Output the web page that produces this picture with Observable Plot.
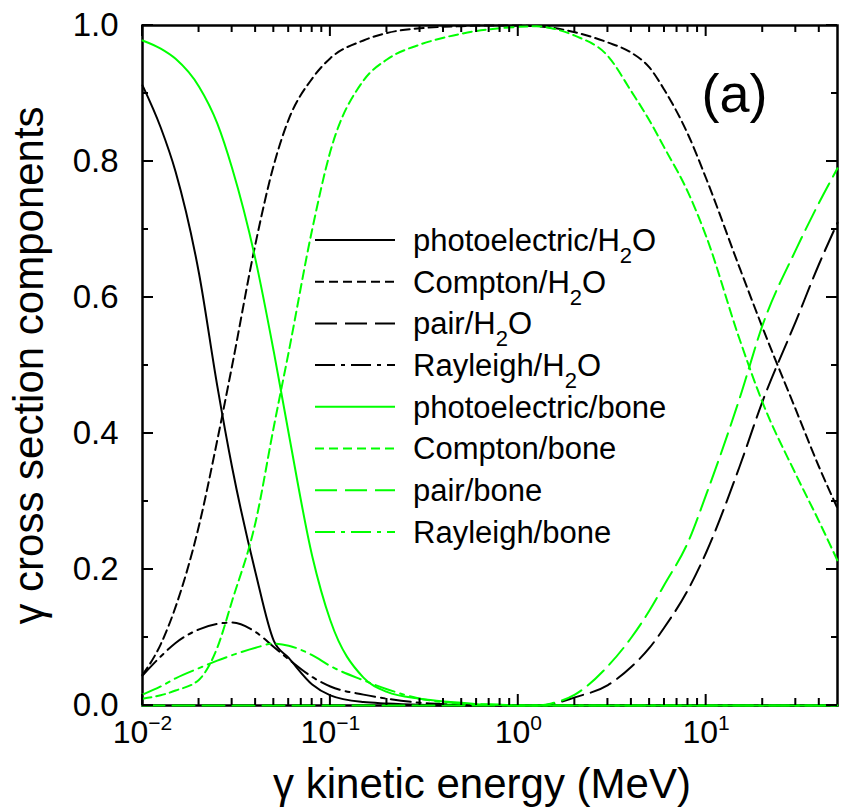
<!DOCTYPE html>
<html>
<head>
<meta charset="utf-8">
<script src="https://cdn.jsdelivr.net/npm/d3@7"></script>
<script src="https://cdn.jsdelivr.net/npm/@observablehq/plot@0.6"></script>
<style>
  body { margin: 0; background: #fff; overflow: hidden; }
  svg { font-family: "Liberation Sans", Arial, Helvetica, sans-serif; }
</style>
</head>
<body>
<div id="chart"></div>
<script>
// ---- data ----
const energy = [0.01, 0.0125, 0.015, 0.02, 0.025, 0.03, 0.04, 0.05, 0.06, 0.08, 0.1, 0.15, 0.2, 0.3, 0.4, 0.5, 0.6, 0.8, 1, 1.25, 1.5, 2, 3, 4, 5, 6, 8, 10, 15, 20, 30, 40, 50];

const photoH2O    = [0.912, 0.85, 0.785, 0.635, 0.47, 0.35, 0.195, 0.095, 0.07, 0.031, 0.015, 0.005, 0.003, 0.001, 0, 0, 0, 0, 0, 0, 0, 0, 0, 0, 0, 0, 0, 0, 0, 0, 0, 0, 0];
const comptonH2O  = [0.045, 0.09, 0.145, 0.265, 0.39, 0.50, 0.68, 0.795, 0.862, 0.922, 0.952, 0.978, 0.989, 0.996, 0.998, 0.999, 1.0, 1.0, 1.0, 0.999, 0.997, 0.99, 0.975, 0.96, 0.938, 0.905, 0.84, 0.775, 0.645, 0.555, 0.435, 0.35, 0.29];
const pairH2O     = [0, 0, 0, 0, 0, 0, 0, 0, 0, 0, 0, 0, 0, 0, 0, 0, 0, 0, 0, 0, 0.002, 0.012, 0.03, 0.057, 0.085, 0.115, 0.17, 0.225, 0.35, 0.448, 0.565, 0.65, 0.71];
const rayleighH2O = [0.044, 0.072, 0.092, 0.112, 0.12, 0.122, 0.108, 0.086, 0.068, 0.042, 0.028, 0.016, 0.01, 0.004, 0.002, 0.001, 0, 0, 0, 0, 0, 0, 0, 0, 0, 0, 0, 0, 0, 0, 0, 0, 0];
const photoBone    = [0.978, 0.966, 0.951, 0.91, 0.856, 0.79, 0.655, 0.52, 0.40, 0.22, 0.125, 0.041, 0.02, 0.01, 0.006, 0.004, 0.002, 0.001, 0, 0, 0, 0, 0, 0, 0, 0, 0, 0, 0, 0, 0, 0, 0];
const comptonBone  = [0.01, 0.015, 0.022, 0.038, 0.085, 0.154, 0.27, 0.41, 0.52, 0.70, 0.815, 0.919, 0.95, 0.972, 0.982, 0.988, 0.992, 0.996, 0.998, 0.999, 0.996, 0.985, 0.955, 0.903, 0.86, 0.82, 0.755, 0.69, 0.54, 0.445, 0.34, 0.27, 0.213];
const pairBone     = [0, 0, 0, 0, 0, 0, 0, 0, 0, 0, 0, 0, 0, 0, 0, 0, 0, 0, 0, 0, 0.003, 0.016, 0.058, 0.1, 0.14, 0.178, 0.24, 0.31, 0.45, 0.56, 0.67, 0.74, 0.79];
const rayleighBone = [0.016, 0.028, 0.04, 0.055, 0.066, 0.074, 0.085, 0.091, 0.088, 0.074, 0.058, 0.037, 0.024, 0.01, 0.005, 0.003, 0.002, 0.001, 0, 0, 0, 0, 0, 0, 0, 0, 0, 0, 0, 0, 0, 0, 0];

const seriesLabels = ["photoelectric/H2O", "Compton/H2O", "pair/H2O", "Rayleigh/H2O",
                      "photoelectric/bone", "Compton/bone", "pair/bone", "Rayleigh/bone"];
const seriesValues = [photoH2O, comptonH2O, pairH2O, rayleighH2O, photoBone, comptonBone, pairBone, rayleighBone];

const xMajorTicks = [0.01, 0.1, 1, 10];
const xMinorTicks = [0.02,0.03,0.04,0.05,0.06,0.07,0.08,0.09,0.2,0.3,0.4,0.5,0.6,0.7,0.8,0.9,2,3,4,5,6,7,8,9,20,30,40];
const yMajorTicks = [0, 0.2, 0.4, 0.6, 0.8, 1.0];
const yMinorTicks = [0.1, 0.3, 0.5, 0.7, 0.9];
const xTickExponents = ["\u22122", "\u22121", "0", "1"];

const xTitle = "\u03b3 kinetic energy (MeV)";
const yTitle = "\u03b3 cross section components";
const panelLabel = "(a)";

// ---- layout / styles ----
const W = 843, H = 809, ML = 142, MR = 6, MT = 25, MB = 104;
const GREEN = "#00ff00";
const colors = ["black", "black", "black", "black", GREEN, GREEN, GREEN, GREEN];
const dashes = [null, "9,5", "22,8", "20,6,4,6", null, "9,5", "22,8", "20,6,4,6"];

const lineMarks = seriesValues.map((vals, i) =>
  Plot.line(energy.map((e, j) => ({E: e, v: vals[j]})), {
    x: "E", y: "v", stroke: colors[i], strokeWidth: 2,
    strokeDasharray: dashes[i] ?? undefined, curve: "monotone-x"
  })
);

const svg = Plot.plot({
  width: W,
  height: H,
  marginLeft: ML,
  marginRight: MR,
  marginTop: MT,
  marginBottom: MB,
  style: {fontFamily: '"Liberation Sans", Arial, Helvetica, sans-serif', background: "white", color: "black"},
  x: {type: "log", domain: [0.01, 50]},
  y: {domain: [0, 1]},
  marks: [
    Plot.frame({stroke: "black", fill: "none", strokeWidth: 2.5}),
    // tick labels
    Plot.axisY({ticks: yMajorTicks, tickSize: 0, tickPadding: 24, fontSize: 33, tickFormat: d3.format(".1f"), label: null}),
    Plot.axisX({ticks: xMajorTicks, tickSize: 0, tickPadding: 15, fontSize: 32,
      tickFormat: d => xTickExponents[xMajorTicks.indexOf(d)], label: null}),
    // titles
    Plot.text([xTitle], {frameAnchor: "bottom", textAnchor: "middle", lineAnchor: "middle", dx: -8, dy: 79, fontSize: 42, fill: "black"}),
    Plot.text([yTitle], {frameAnchor: "left", textAnchor: "middle", lineAnchor: "middle", rotate: -90, dx: -113, fontSize: 42, fill: "black"}),
    Plot.text([panelLabel], {frameAnchor: "top-right", textAnchor: "middle", lineAnchor: "middle", dx: -103, dy: 69, fontSize: 54, fill: "black"}),
    ...lineMarks
  ]
});

// inward ticks on all four sides; positions come from Plot's own x and y scales
const px = svg.scale("x"), py = svg.scale("y");
const sx = d3.scaleLog().domain(px.domain).range(px.range);
const sy = d3.scaleLinear().domain(py.domain).range(py.range);
const [fx0, fx1] = px.range, [fy1, fy0] = py.range;   // frame edges in pixels
let tickPath = "";
function hTicks(vals, len) {
  vals.forEach(v => {
    const y = sy(v);
    tickPath += `M${fx0},${y}h${len}M${fx1},${y}h${-len}`;
  });
}
function vTicks(vals, len) {
  vals.forEach(v => {
    const x = sx(v);
    tickPath += `M${x},${fy1}v${-len}M${x},${fy0}v${len}`;
  });
}
hTicks(yMajorTicks, 11);
hTicks(yMinorTicks, 6);
vTicks(xMajorTicks, 11);
vTicks(xMinorTicks, 7);
d3.select(svg).append("path").attr("d", tickPath)
  .attr("fill", "none").attr("stroke", "#000").attr("stroke-width", 2);

// superscript exponents on x tick labels
d3.select(svg).selectAll('g[aria-label="x-axis tick label"] text').each(function () {
  const exp = this.textContent;
  if (!exp) return;
  const t = d3.select(this);
  t.text(null);
  t.append("tspan").text("10");
  t.append("tspan").attr("dy", -13).attr("font-size", 21).text(exp);
});

// legend inside the plot
const leg = d3.select(svg).append("g").attr("font-size", 31).attr("fill", "black").attr("text-anchor", "start");
seriesLabels.forEach((label, i) => {
  const y = 240 + i * 41.7;
  const ln = leg.append("line").attr("x1", 315).attr("x2", 395).attr("y1", y).attr("y2", y)
    .attr("stroke", colors[i]).attr("stroke-width", 2);
  if (dashes[i]) ln.attr("stroke-dasharray", dashes[i]);
  const t = leg.append("text").attr("x", 413).attr("y", y).attr("dy", "0.35em").attr("text-anchor", "start");
  if (label.endsWith("H2O")) {
    t.append("tspan").text(label.slice(0, -2));
    t.append("tspan").attr("dy", 12).attr("font-size", 22).text("2");
    t.append("tspan").attr("dy", -12).text("O");
  } else {
    t.append("tspan").text(label);
  }
});

document.getElementById("chart").append(svg);
</script>
</body>
</html>
